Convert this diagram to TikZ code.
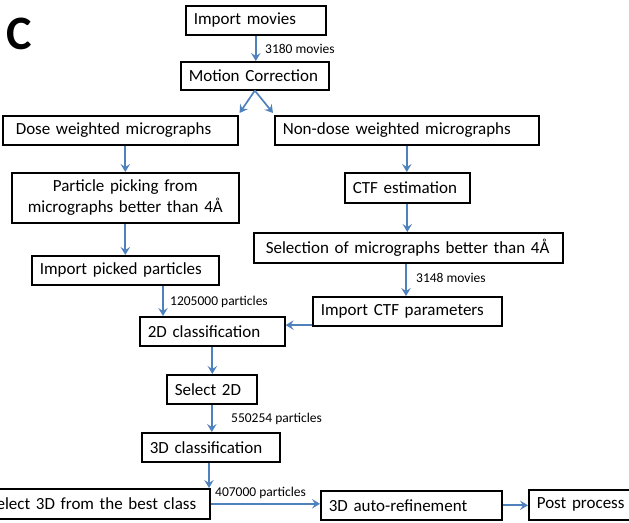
\documentclass[tikz,border=0pt]{standalone}
\usepackage{fontspec}
\setmainfont{Carlito}
\usetikzlibrary{arrows.meta,calc}
\definecolor{arrblue}{RGB}{79,129,189}
\tikzset{
  box/.style={draw=black, line width=1.6pt, anchor=north west, inner xsep=8pt, inner ysep=0pt,
    align=left, font=\fontsize{17}{21}\selectfont},
  arr/.style={draw=arrblue, line width=1.7pt, -{Stealth[length=8pt,width=9.5pt,inset=3pt]}},
  lbl/.style={anchor=west, inner sep=0pt, font=\fontsize{13.5}{16}\selectfont},
}
\newcommand{\bx}[6]{% name, x1, y1, x2, y2, text
  \pgfmathsetmacro{\bw}{#4-#2}\pgfmathsetmacro{\bh}{#5-#3}\pgfmathsetmacro{\tw}{#4-#2-16}
  \node[box, minimum width=\bw pt, minimum height=\bh pt, text width=\tw pt] (#1) at (#2,#3) {#6};}
\begin{document}
\begin{tikzpicture}[x=1pt,y=-1pt]
\useasboundingbox (0,0) rectangle (629,522);
\node[anchor=base west, inner sep=0pt, font=\fontsize{48}{48}\bfseries\selectfont] (C) at (6,49) {C};
\bx{imp}{185}{5}{325}{34}{Import movies}
\bx{mc}{180}{61}{328}{89}{Motion Correction}
\node[box, inner xsep=13pt, minimum width=235pt, minimum height=29pt, text width=209pt] (dose) at (2,115) {Dose weighted micrographs};
\bx{nondose}{274}{115}{538}{144}{Non-dose weighted micrographs}
\node[box, minimum width=227pt, minimum height=50pt, text width=211pt, align=center] (pp) at (11,172) {Particle picking from\\micrographs better than 4Å};
\bx{ctf}{344}{172}{469}{202}{CTF estimation}
\node[box, inner xsep=12pt, minimum width=309pt, minimum height=30pt, text width=285pt] (sel) at (253,232) {Selection of micrographs better than 4Å};
\bx{ipp}{31}{255}{218}{284}{Import picked particles}
\bx{ictf}{312}{296}{501}{325}{Import CTF parameters}
\bx{ctwo}{139}{316}{284}{345}{2D classification}
\bx{stwo}{166}{374}{256}{403}{Select 2D}
\bx{cthree}{141}{432}{279}{461}{3D classification}
\node[box, anchor=north east, inner xsep=14pt, minimum width=240pt, minimum height=30pt, text width=212pt, align=right] (sthree) at (211,488) {Select 3D from the best class};
\bx{ref}{320}{490}{501}{519}{3D auto-refinement}
\bx{post}{528}{489}{640}{519}{Post process}
% arrows
\draw[arr] (imp.south) -- (imp.south |- mc.north);
\node[lbl] (l1) at (265,49) {3180 movies};
\draw[arr] (mc.south) -- ($(dose.north east)+(1,-2)$);
\draw[arr] (mc.south) -- ($(nondose.north west)+(-1,-2)$);
\draw[arr] (pp.north |- dose.south) -- (pp.north);
\draw[arr] (pp.south) -- (ipp.north);
\draw[arr] (nondose.south) -- (nondose.south |- ctf.north);
\draw[arr] (ctf.south) -- (ctf.south |- sel.north);
\draw[arr] ($(sel.south west)+(153,0)$) -- ($(ictf.north west)+(94,0)$);
\node[lbl] (l2) at (416,278) {3148 movies};
\draw[arr] ($(ipp.south west)+(132,0)$) -- ($(ctwo.north west)+(24,0)$);
\node[lbl] (l3) at (170,302) {1205000 particles};
\coordinate (ictfout) at ($(ictf.south west)+(0,-1.5)$);
\draw[arr] (ictfout) -- (ictfout -| ctwo.east);
\draw[arr] (ctwo.south) -- (ctwo.south |- stwo.north);
\draw[arr] (stwo.south) -- (stwo.south |- cthree.north);
\node[lbl] (l4) at (231,419) {550254 particles};
\draw[arr] ($(cthree.south west)+(68,0)$) -- ($(sthree.north east)+(-2,0)$);
\draw[arr] (sthree.east) -- (sthree.east -| ref.west);
\node[lbl] (l5) at (215,493) {407000 particles};
\draw[arr] (ref.east) -- (ref.east -| post.west);
\end{tikzpicture}
\end{document}
